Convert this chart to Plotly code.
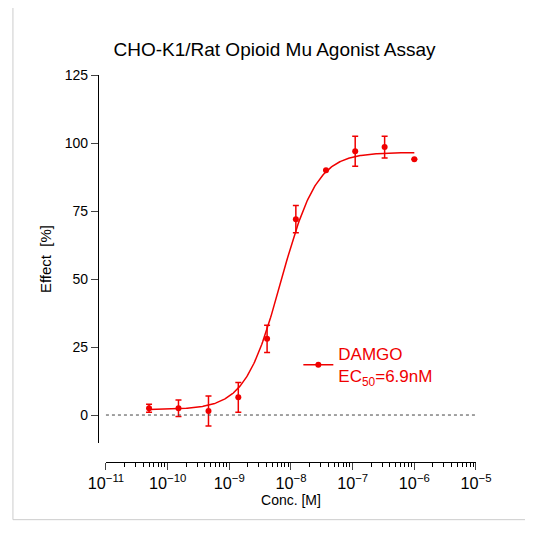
import numpy as np
import plotly.graph_objects as go

conc = [5e-11, 1.5e-10, 4.6e-10, 1.4e-9, 4.1e-9, 1.2e-8, 3.7e-8, 1.1e-7, 3.3e-7, 1e-6]
effect = [2.5, 2.5, 1.5, 6.5, 28, 72, 90, 97, 98.5, 94]
err = [1.5, 3, 5.5, 5.5, 5, 5, 0, 5.5, 4, 0]
bottom, top, ec50, hill = 2.0, 96.5, 6.9e-9, 1.5

xs = np.logspace(np.log10(conc[0]), np.log10(conc[-1]), 300)
ys = bottom + (top - bottom) / (1 + (ec50 / xs) ** hill)
red = "#f00000"

fig = go.Figure()
fig.add_trace(go.Scatter(x=xs, y=ys, mode="lines", line=dict(color=red, width=1.5),
                         showlegend=False, hoverinfo="skip"))
fig.add_trace(go.Scatter(x=conc, y=effect, mode="lines+markers",
                         line=dict(color="rgba(0,0,0,0)"),
                         marker=dict(color=red, size=6),
                         error_y=dict(array=err, color=red, thickness=1.5, width=3),
                         showlegend=False))
fig.add_trace(go.Scatter(x=[None], y=[None], mode="lines+markers",
                         line=dict(color=red, width=1.5), marker=dict(color=red, size=6),
                         name="DAMGO<br>EC<sub>50</sub>=6.9nM"))
fig.add_shape(type="line", xref="paper", yref="y", x0=0.021, x1=1, y0=0, y1=0,
              line=dict(color="#444444", width=1, dash="dot"))
fig.add_shape(type="rect", xref="paper", yref="paper", x0=-0.225, x1=1.159, y0=-0.149, y1=1.202,
              line=dict(color="#cccccc", width=1), layer="below")
fig.update_layout(
    width=533, height=533, margin=dict(l=90, r=65, t=67, b=79),
    paper_bgcolor="white", plot_bgcolor="white",
    font=dict(family="Liberation Sans, Arial", size=13, color="black"),
    title=dict(text="CHO-K1/Rat Opioid Mu Agonist Assay", x=0.5, xanchor="center",
               y=0.935, font=dict(size=19)),
    legend=dict(x=0.53, y=0.325, xanchor="left", yanchor="top", bgcolor="rgba(0,0,0,0)",
                font=dict(size=17, color=red)),
    xaxis=dict(type="log", range=[-11, -5], domain=[0.021, 1], anchor="free", position=0,
               showline=True, linecolor="black", linewidth=1.2, ticks="outside", ticklen=7,
               dtick=1, exponentformat="power", showgrid=False, zeroline=False,
               minor=dict(ticks="outside", ticklen=4, tickcolor="black", showgrid=False),
               title=dict(text="Conc. [M]", standoff=4, font=dict(size=14))),
    yaxis=dict(range=[-10.3, 125], domain=[0.049, 1], anchor="free", position=0,
               tickvals=[0, 25, 50, 75, 100, 125], showline=True, linecolor="black",
               linewidth=1.2, ticks="outside", ticklen=7, showgrid=False, zeroline=False,
               tickfont=dict(size=14),
               title=dict(text="Effect  [%]", standoff=8, font=dict(size=15))),
)
fig.write_html("out.html")
